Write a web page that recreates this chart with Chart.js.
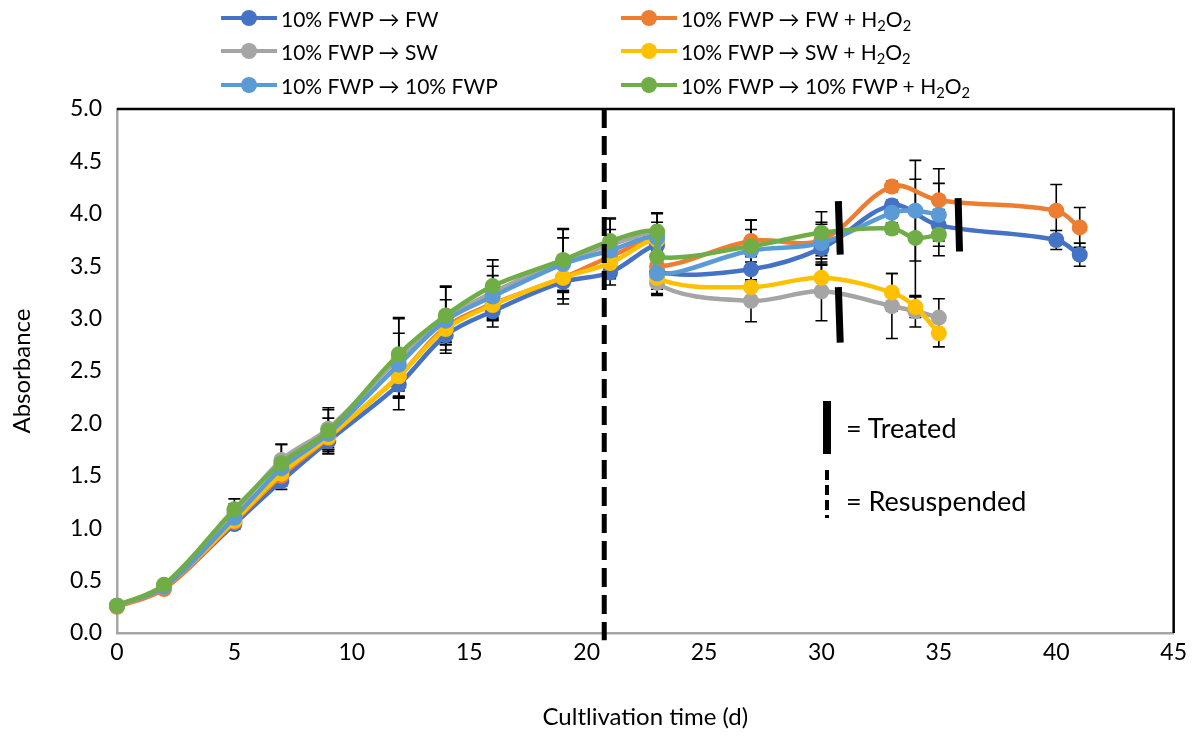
<!DOCTYPE html>
<html>
<head>
<meta charset="utf-8">
<script src="https://cdn.jsdelivr.net/npm/chart.js@4.4.1/dist/chart.umd.min.js"></script>
<style>
  body { margin: 0; background: #fff; }
  #wrap { position: relative; width: 1193px; height: 738px; font-family: Lato, "Open Sans", sans-serif; }
  #legend .item { position: absolute; height: 24px; display: flex; align-items: center; font-size: 21px; color: #000; white-space: nowrap; }
  #legend .sw { position: relative; width: 56px; height: 24px; margin-right: 4px; }
  #legend .sw .ln { position: absolute; left: 0; right: 0; top: 10px; height: 4px; }
  #legend .sw .dot { position: absolute; left: 20px; top: 4px; width: 16px; height: 16px; border-radius: 50%; }
  #legend sub { font-size: 0.7em; vertical-align: -0.25em; line-height: 0; }
  .key { position: absolute; font-size: 27px; color: #000; white-space: nowrap; }
</style>
</head>
<body>
<div id="wrap">
  <canvas id="chart"></canvas>
  <div id="legend"></div>
  <div class="key" style="left:823px;top:401px;width:8px;height:53px;background:#000"></div>
  <div class="key" style="left:825px;top:470px;width:4px;height:48px;background:repeating-linear-gradient(#000 0 10px, transparent 10px 15px)"></div>
  <div class="key" style="left:846px;top:411px">= Treated</div>
  <div class="key" style="left:846px;top:484px">= Resuspended</div>
</div>
<script>
// days (two points at day 23: before and after resuspension)
const daysLong = [0, 2, 5, 7, 9, 12, 14, 16, 19, 21, 23, 23, 27, 30, 33, 35, 40, 41];
const daysShort = [0, 2, 5, 7, 9, 12, 14, 16, 19, 21, 23, 23, 27, 30, 33, 34, 35];

const seriesLabels = [
  '10% FWP → FW', '10% FWP → FW + H₂O₂',
  '10% FWP → SW', '10% FWP → SW + H₂O₂',
  '10% FWP → 10% FWP', '10% FWP → 10% FWP + H₂O₂'
];
const seriesColors = ['#4472C4', '#ED7D31', '#A5A5A5', '#FFC000', '#5B9BD5', '#70AD47'];

// absorbance
const fw        = [0.26, 0.43, 1.04, 1.45, 1.83, 2.37, 2.84, 3.07, 3.35, 3.44, 3.70, 3.45, 3.47, 3.67, 4.08, 3.89, 3.75, 3.61];
const fwH2o2    = [0.25, 0.42, 1.06, 1.50, 1.86, 2.45, 2.92, 3.14, 3.39, 3.59, 3.76, 3.50, 3.74, 3.75, 4.26, 4.13, 4.03, 3.87];
const sw        = [0.26, 0.45, 1.15, 1.65, 1.95, 2.62, 3.00, 3.25, 3.55, 3.70, 3.80, 3.34, 3.17, 3.26, 3.12, 3.07, 3.01];
const swH2o2    = [0.26, 0.44, 1.07, 1.52, 1.87, 2.45, 2.90, 3.13, 3.39, 3.53, 3.75, 3.39, 3.30, 3.39, 3.25, 3.11, 2.86];
const fwp       = [0.26, 0.44, 1.10, 1.57, 1.90, 2.56, 2.98, 3.21, 3.52, 3.65, 3.77, 3.43, 3.65, 3.72, 4.01, 4.03, 3.99];
const fwpH2o2   = [0.26, 0.46, 1.18, 1.62, 1.93, 2.66, 3.03, 3.31, 3.56, 3.74, 3.83, 3.59, 3.69, 3.82, 3.86, 3.77, 3.80];

// standard deviations
const fwErr      = [0.02, 0.03, 0.05, 0.08, 0.12, 0.24, 0.17, 0.15, 0.21, 0.12, 0.08, 0.22, 0.12, 0.10, 0.05, 0.15, 0.09, 0.11];
const fwH2o2Err  = [0.02, 0.03, 0.06, 0.10, 0.13, 0.20, 0.15, 0.15, 0.20, 0.15, 0.10, 0.20, 0.20, 0.15, 0.05, 0.30, 0.25, 0.19];
const swErr      = [0.02, 0.03, 0.08, 0.15, 0.18, 0.38, 0.30, 0.25, 0.30, 0.25, 0.20, 0.12, 0.20, 0.28, 0.31, 0.15, 0.18];
const swH2o2Err  = [0.02, 0.03, 0.06, 0.10, 0.12, 0.20, 0.15, 0.15, 0.20, 0.15, 0.10, 0.15, 0.15, 0.12, 0.18, 0.10, 0.13];
const fwpErr     = [0.02, 0.03, 0.07, 0.12, 0.15, 0.30, 0.20, 0.20, 0.25, 0.20, 0.15, 0.15, 0.20, 0.20, 0.10, 0.48, 0.30];
const fwpH2o2Err = [0.02, 0.03, 0.10, 0.18, 0.22, 0.35, 0.28, 0.25, 0.30, 0.22, 0.18, 0.20, 0.25, 0.20, 0.05, 0.56, 0.20];

const yTicks = [0, 0.5, 1, 1.5, 2, 2.5, 3, 3.5, 4, 4.5, 5];
const resuspendDay = 20.75;
const treatedMarks = [[30.72, 4.12, 30.80, 3.61], [30.72, 3.30, 30.80, 2.77], [35.82, 4.15, 35.88, 3.64]];

const seriesValues = [fw, fwH2o2, sw, swH2o2, fwp, fwpH2o2];
const seriesErrors = [fwErr, fwH2o2Err, swErr, swH2o2Err, fwpErr, fwpH2o2Err];
const seriesDays = [daysLong, daysLong, daysShort, daysShort, daysShort, daysShort];

const datasets = seriesValues.map((vals, i) => ({
  label: seriesLabels[i],
  data: vals.map((v, j) => ({ x: seriesDays[i][j], y: v })),
  err: seriesErrors[i],
  borderColor: seriesColors[i],
  backgroundColor: seriesColors[i],
  borderWidth: 4.5,
  pointRadius: 8,
  pointHoverRadius: 8,
  pointBorderWidth: 0,
  tension: 0.35,
  clip: false,
  order: 5 - i
}));

// error bars, drawn under the series
const errorBars = {
  id: 'errorBars',
  beforeDatasetsDraw(chart) {
    const { ctx, scales: { x, y } } = chart;
    ctx.save();
    ctx.strokeStyle = '#000';
    ctx.lineWidth = 1.6;
    chart.data.datasets.forEach(ds => {
      ds.data.forEach((p, i) => {
        const e = ds.err[i];
        if (!e) return;
        const px = x.getPixelForValue(p.x);
        const top = y.getPixelForValue(p.y + e);
        const bot = y.getPixelForValue(p.y - e);
        ctx.beginPath();
        ctx.moveTo(px, top); ctx.lineTo(px, bot);
        ctx.moveTo(px - 6, top); ctx.lineTo(px + 6, top);
        ctx.moveTo(px - 6, bot); ctx.lineTo(px + 6, bot);
        ctx.stroke();
      });
    });
    // plot frame top and right
    const a = chart.chartArea;
    ctx.strokeStyle = '#000';
    ctx.lineWidth = 2.5;
    ctx.beginPath();
    ctx.moveTo(a.left, a.top); ctx.lineTo(a.right, a.top); ctx.lineTo(a.right, a.bottom);
    ctx.stroke();
    ctx.restore();
  },
  afterDatasetsDraw(chart) {
    const { ctx, scales: { x, y } } = chart;
    ctx.save();
    // resuspension line
    const rx = x.getPixelForValue(resuspendDay);
    ctx.strokeStyle = '#000';
    ctx.lineWidth = 5;
    ctx.setLineDash([19, 8]);
    ctx.beginPath();
    ctx.moveTo(rx, y.getPixelForValue(5));
    ctx.lineTo(rx, y.getPixelForValue(-0.07));
    ctx.stroke();
    // treatment marks
    ctx.setLineDash([]);
    ctx.lineWidth = 7;
    treatedMarks.forEach(m => {
      ctx.beginPath();
      ctx.moveTo(x.getPixelForValue(m[0]), y.getPixelForValue(m[1]));
      ctx.lineTo(x.getPixelForValue(m[2]), y.getPixelForValue(m[3]));
      ctx.stroke();
    });
    ctx.restore();
  }
};

const tickFont = { family: 'Lato', size: 23 };
const titleFont = { family: 'Lato', size: 24 };

new Chart(document.getElementById('chart'), {
  type: 'line',
  data: { datasets },
  options: {
    responsive: true,
    maintainAspectRatio: false,
    animation: false,
    events: [],
    layout: { padding: { top: 109, right: 18, left: 0, bottom: 0 } },
    plugins: { legend: { display: false }, tooltip: { enabled: false } },
    scales: {
      x: {
        type: 'linear', min: 0, max: 45,
        grid: { display: false, drawTicks: false },
        border: { color: '#A6A6A6', width: 2.5 },
        ticks: { stepSize: 5, color: '#000', font: tickFont, padding: 6, maxRotation: 0 },
        title: { display: true, text: 'Cultlivation time (d)', color: '#000', font: titleFont, padding: { top: 4, bottom: 6 } },
        afterFit: s => { s.height = 105; }
      },
      y: {
        min: 0, max: 5,
        grid: { display: false, drawTicks: false },
        border: { color: '#A6A6A6', width: 2.5 },
        afterBuildTicks: s => { s.ticks = yTicks.map(v => ({ value: v })); },
        ticks: { color: '#000', font: tickFont, padding: 15, callback: v => v.toFixed(1) },
        title: { display: true, text: 'Absorbance', color: '#000', font: titleFont, padding: { top: 8, bottom: 0 } },
        afterFit: s => { s.width = 117; }
      }
    }
  },
  plugins: [errorBars]
});

// legend in two columns
const legend = document.getElementById('legend');
const rowY = [18, 51, 85];
seriesLabels.forEach((lab, i) => {
  const item = document.createElement('div');
  item.className = 'item';
  item.style.left = (i % 2 ? 621 : 221) + 'px';
  item.style.top = (rowY[Math.floor(i / 2)] - 12) + 'px';
  item.innerHTML = '<div class="sw"><div class="ln" style="background:' + seriesColors[i] + '"></div>' +
    '<div class="dot" style="background:' + seriesColors[i] + '"></div></div>' +
    '<span>' + lab.replace(/₂/g, '<sub>2</sub>') + '</span>';
  legend.appendChild(item);
});
</script>
</body>
</html>
